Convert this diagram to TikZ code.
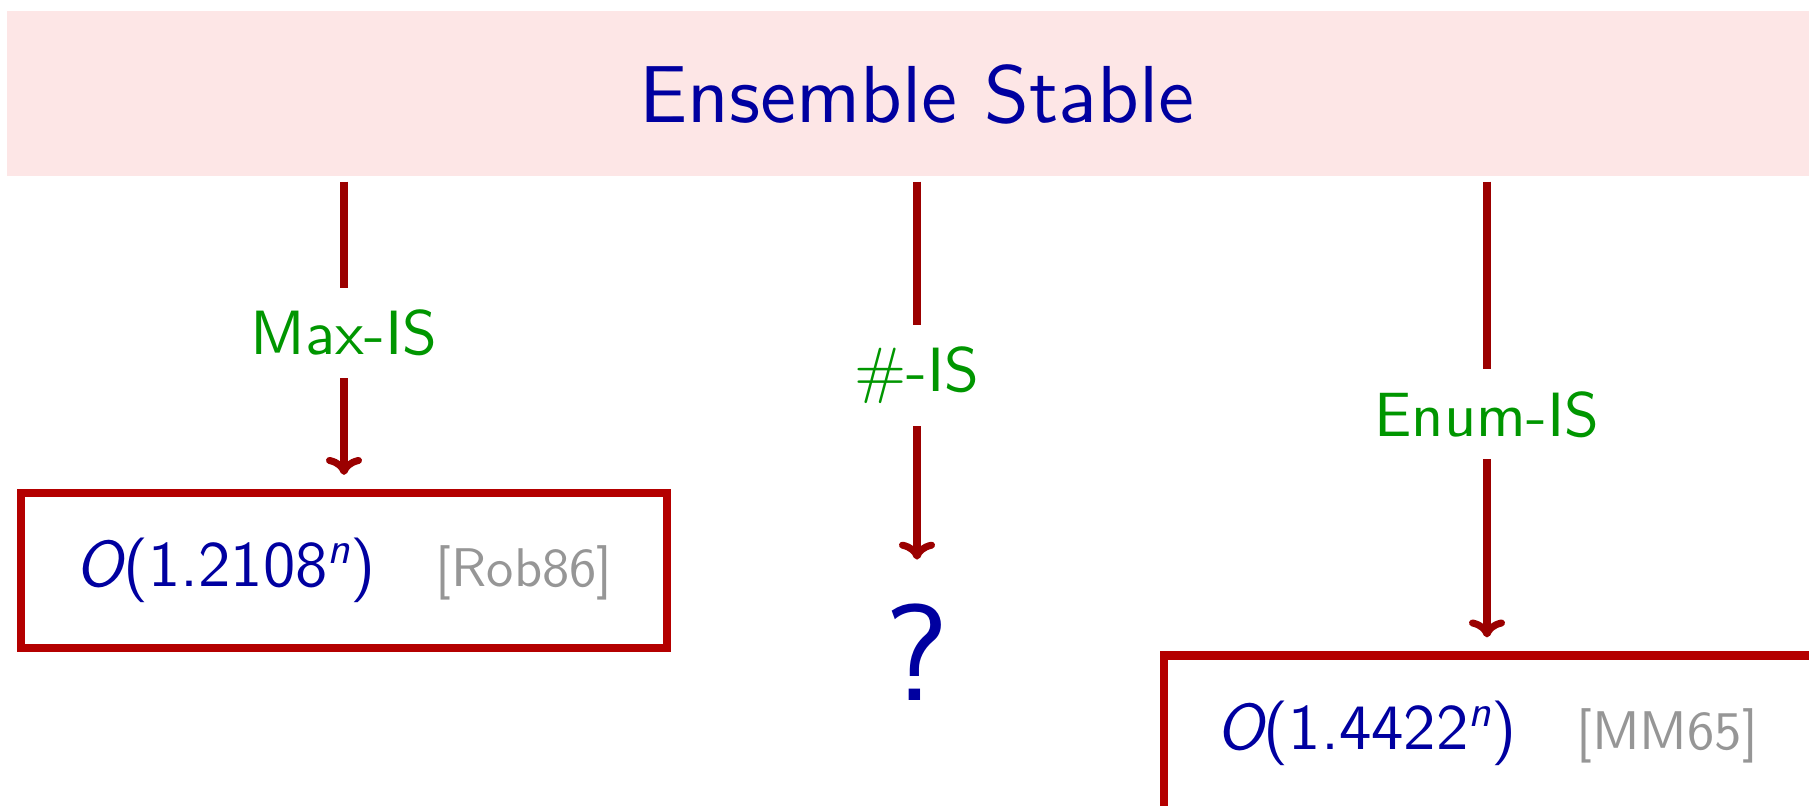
\documentclass[tikz,border=0pt]{standalone}
\usepackage{fontspec}
\setsansfont{lmsans10-regular.otf}[ItalicFont=lmsans10-oblique.otf, BoldFont=lmsans10-bold.otf]
\usepackage{tikz}
\usepackage{xcolor}
\usetikzlibrary{arrows.meta}

\definecolor{deepblue}{RGB}{0,0,160}
\definecolor{edgered}{RGB}{155,0,0}
\definecolor{boxred}{RGB}{180,0,0}
\definecolor{lblgreen}{RGB}{0,150,0}
\definecolor{bandpink}{RGB}{253,230,230}
\definecolor{refgray}{RGB}{150,150,150}
\newcommand{\expn}{\raisebox{6.5pt}{\fontsize{12.5}{14}\selectfont\itshape n}}

\begin{document}
\begin{tikzpicture}[every node/.style={font=\sffamily, text=deepblue},
  flow/.style={draw=edgered, line width=2pt, -{Computer Modern Rightarrow[length=1.8mm,width=3.6mm]}, shorten <=0.45mm, shorten >=1.4mm},
  lbl/.style={fill=white, text=lblgreen, font=\sffamily\fontsize{17.8}{20}\selectfont, inner sep=2.2mm},
  result/.style={draw=boxred, line width=2.3pt, minimum width=6.46cm, minimum height=1.55cm, font=\sffamily\fontsize{18.4}{22}\selectfont}]
\useasboundingbox (0,0) rectangle (18.09,8.06);
\node[fill=bandpink, minimum width=18.2cm, minimum height=1.65cm, font=\sffamily\fontsize{23}{28}\selectfont] (band) at (9.17,7.12) {Ensemble Stable};
\node[result] (mis) at (3.44,2.355) {{\itshape O}(1.2108\expn)\hspace{6mm}{\color{refgray}\fontsize{15.5}{18}\selectfont[Rob86]}};
\node[font=\sffamily\fontsize{39}{42}\selectfont, inner xsep=0pt, inner ysep=3mm, anchor=base] (q) at (9.17,1.05) {?};
\node[result, minimum width=6.7cm] (enum) at (14.99,0.73) {\hspace{-2.4mm}{\itshape O}(1.4422\expn)\hspace{6mm}{\color{refgray}\fontsize{15.5}{18}\selectfont[MM65]}\hspace{2.4mm}};
\coordinate (enumx) at (14.87,0);
\draw[flow] (band.south -| mis.north) -- node[lbl] {Max-IS} (mis.north); \draw[flow] (band.south -| q.north) -- node[lbl] {\#-IS} (q.north); \draw[flow] (band.south -| enumx) -- node[lbl] {Enum-IS} (enum.north -| enumx);
\end{tikzpicture}
\end{document}
